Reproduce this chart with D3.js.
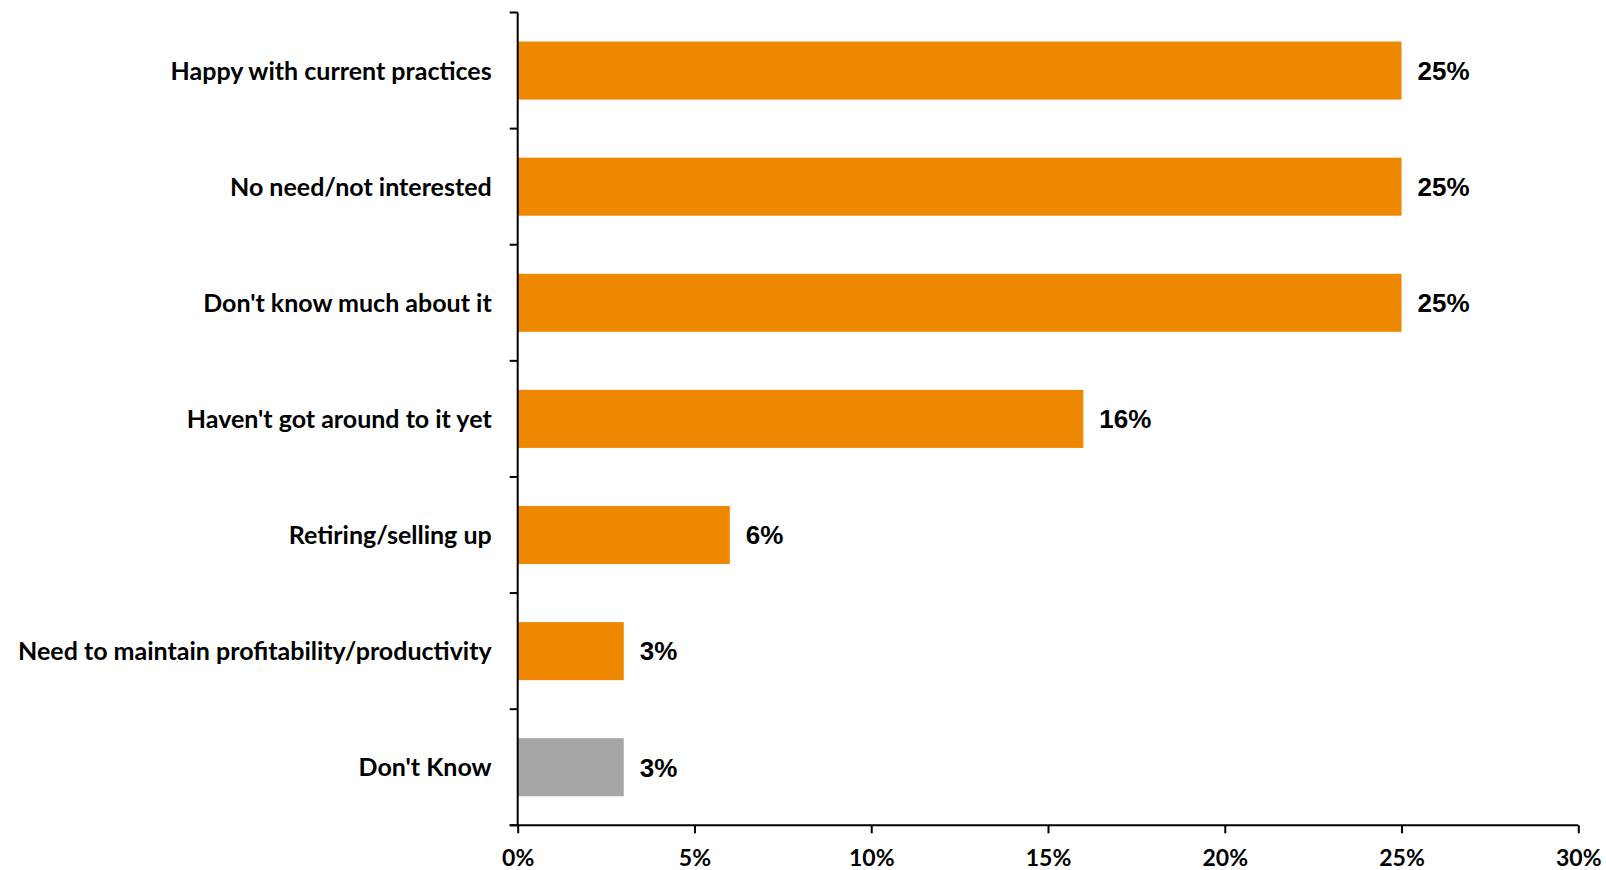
<!DOCTYPE html>
<html>
<head>
<meta charset="utf-8">
<script src="https://cdn.jsdelivr.net/npm/d3@7"></script>
<style>
  html, body { margin: 0; padding: 0; background: #fff; }
  svg { display: block; }
</style>
</head>
<body>
<svg id="chart" width="1606" height="870"></svg>
<script>
// Reasons given, share of respondents (%)
const categories = [
  "Happy with current practices",
  "No need/not interested",
  "Don't know much about it",
  "Haven't got around to it yet",
  "Retiring/selling up",
  "Need to maintain profitability/productivity",
  "Don't Know"
];
const values = [25, 25, 25, 16, 6, 3, 3];
const barColors = ["#EE8800", "#EE8800", "#EE8800", "#EE8800", "#EE8800", "#EE8800", "#A6A6A6"];
const xTicks = [0, 5, 10, 15, 20, 25, 30];
const xTickLabels = ["0%", "5%", "10%", "15%", "20%", "25%", "30%"];

(function draw() {
  const svg = d3.select("#chart");
  const plotLeft = 517.7, plotRight = 1578.3, plotTop = 12.5, plotBottom = 825.3;

  const x = d3.scaleLinear().domain([0, 30]).range([plotLeft, plotRight]);
  const y = d3.scaleBand().domain(categories).range([plotTop, plotBottom])
    .paddingInner(0.5).paddingOuter(0.25);

  const labelFont = "Lato, 'Open Sans', sans-serif";

  // bars
  svg.append("g").selectAll("rect")
    .data(categories)
    .join("rect")
    .attr("x", x(0))
    .attr("y", d => y(d))
    .attr("width", (d, i) => x(values[i]) - x(0))
    .attr("height", y.bandwidth())
    .attr("fill", (d, i) => barColors[i]);

  // value labels
  svg.append("g").selectAll("text")
    .data(categories)
    .join("text")
    .attr("x", (d, i) => x(values[i]) + 16)
    .attr("y", d => y(d) + y.bandwidth() / 2)
    .attr("dy", "0.36em")
    .attr("font-family", "'Liberation Sans', Arial, sans-serif")
    .attr("font-weight", "bold")
    .attr("font-size", 26)
    .attr("fill", "#000")
    .text((d, i) => values[i] + "%");

  // category axis: line with ticks at band boundaries
  const step = y.step();
  const boundaries = d3.range(categories.length + 1).map(i => plotTop + i * step);
  const yAxis = svg.append("g");
  yAxis.append("line")
    .attr("x1", plotLeft).attr("x2", plotLeft)
    .attr("y1", plotTop).attr("y2", plotBottom)
    .attr("stroke", "#000").attr("stroke-width", 2);
  yAxis.selectAll("line.tick")
    .data(boundaries)
    .join("line")
    .attr("class", "tick")
    .attr("x1", plotLeft - 8).attr("x2", plotLeft)
    .attr("y1", d => d).attr("y2", d => d)
    .attr("stroke", "#000").attr("stroke-width", 2);
  yAxis.selectAll("text")
    .data(categories)
    .join("text")
    .attr("x", plotLeft - 26)
    .attr("y", d => y(d) + y.bandwidth() / 2)
    .attr("dy", "0.36em")
    .attr("text-anchor", "end")
    .attr("font-family", labelFont)
    .attr("font-weight", "bold")
    .attr("font-size", 25)
    .attr("fill", "#000")
    .text(d => d);

  // value axis
  const xAxis = svg.append("g")
    .attr("transform", `translate(0,${plotBottom})`)
    .call(d3.axisBottom(x).tickValues(xTicks)
      .tickFormat((d, i) => xTickLabels[i])
      .tickSizeInner(8).tickSizeOuter(0).tickPadding(16));
  xAxis.select(".domain").remove();
  xAxis.append("line")
    .attr("x1", plotLeft - 8).attr("x2", plotRight)
    .attr("y1", 0).attr("y2", 0)
    .attr("stroke", "#000").attr("stroke-width", 2);
  xAxis.selectAll(".tick line").attr("stroke", "#000").attr("stroke-width", 2);
  xAxis.selectAll(".tick text")
    .attr("font-family", labelFont)
    .attr("font-weight", "bold")
    .attr("font-size", 23)
    .attr("fill", "#000");
})();
</script>
</body>
</html>
